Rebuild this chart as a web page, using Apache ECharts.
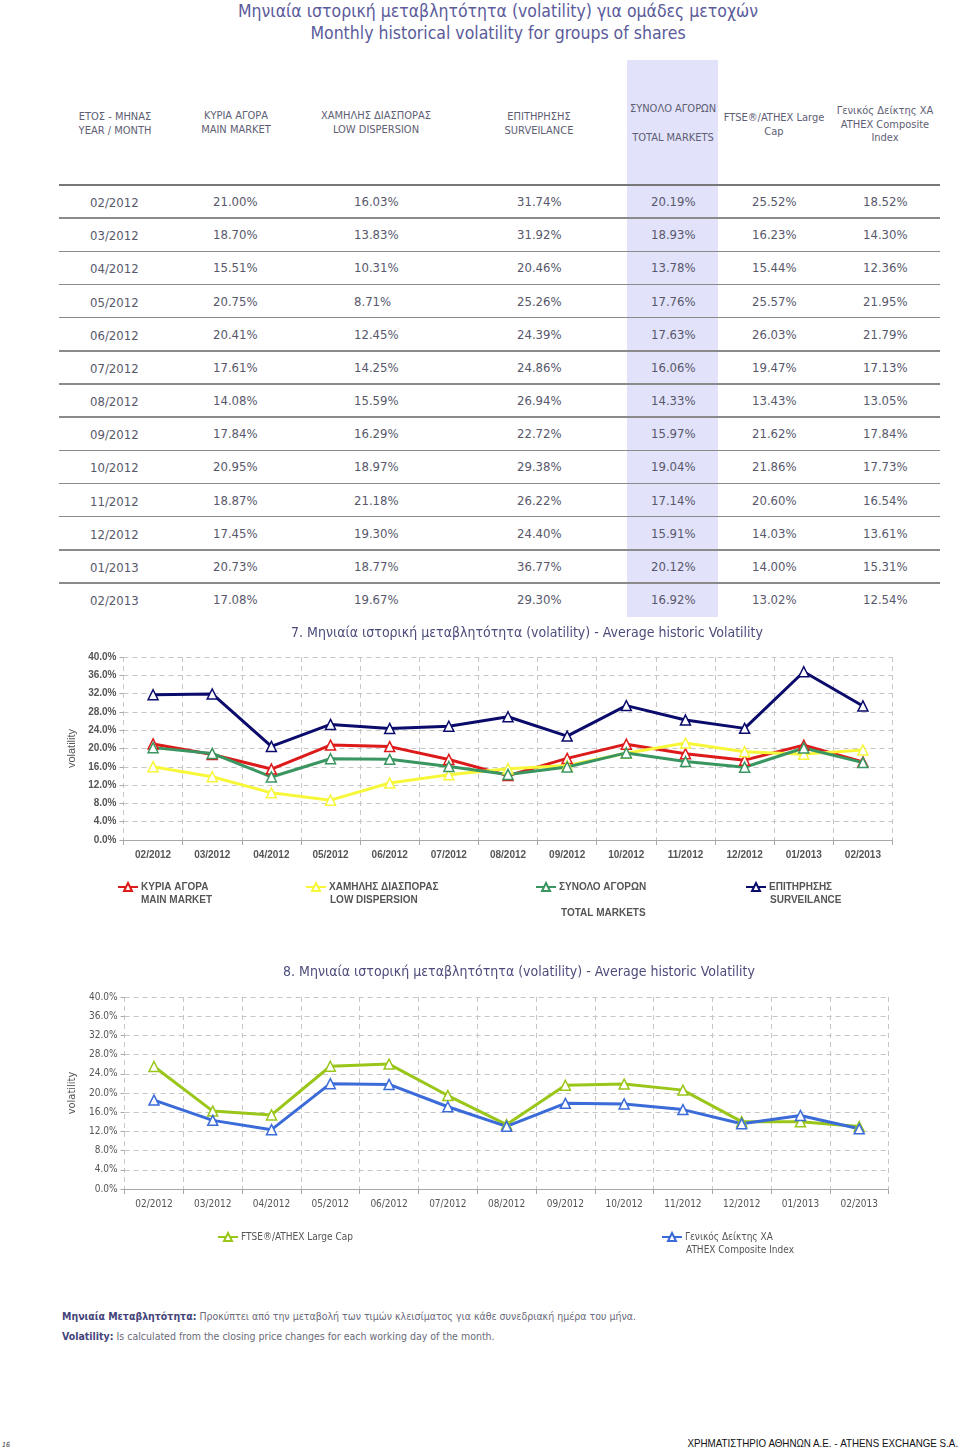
<!DOCTYPE html>
<html>
<head>
<meta charset="utf-8">
<script src="https://cdn.jsdelivr.net/npm/echarts@6/dist/echarts.min.js"></script>
<style>
  html, body { margin:0; padding:0; background:#fff; }
  #page { position:relative; width:960px; height:1450px; overflow:hidden; }
  #chart { position:absolute; left:0; top:0; width:960px; height:1450px; }
  #layer { position:absolute; left:0; top:0; width:960px; height:1450px; pointer-events:none; }
  .t { position:absolute; white-space:nowrap; font-family:"DejaVu Sans Condensed","DejaVu Sans",sans-serif; }
  .hl { position:absolute; background:#e2e2fa; }
  .rule { position:absolute; background:#8a8a8a; height:1.5px; }
</style>
</head>
<body>
<div id="page">
  <div id="layer"></div>
  <div id="chart"></div>
</div>
<script>
// ---------------- DATA ----------------
const months = ['02/2012','03/2012','04/2012','05/2012','06/2012','07/2012','08/2012','09/2012','10/2012','11/2012','12/2012','01/2013','02/2013'];
const mainMarket = [21.00,18.70,15.51,20.75,20.41,17.61,14.08,17.84,20.95,18.87,17.45,20.73,17.08];
const lowDispersion = [16.03,13.83,10.31,8.71,12.45,14.25,15.59,16.29,18.97,21.18,19.30,18.77,19.67];
const surveilance = [31.74,31.92,20.46,25.26,24.39,24.86,26.94,22.72,29.38,26.22,24.40,36.77,29.30];
const totalMarkets = [20.19,18.93,13.78,17.76,17.63,16.06,14.33,15.97,19.04,17.14,15.91,20.12,16.92];
const ftseLargeCap = [25.52,16.23,15.44,25.57,26.03,19.47,13.43,21.62,21.86,20.60,14.03,14.00,13.02];
const compositeIndex = [18.52,14.30,12.36,21.95,21.79,17.13,13.05,17.84,17.73,16.54,13.61,15.31,12.54];

const headerLabels = [
  ['ΕΤΟΣ - ΜΗΝΑΣ','YEAR / MONTH'],
  ['ΚΥΡΙΑ ΑΓΟΡΑ','MAIN MARKET'],
  ['ΧΑΜΗΛΗΣ ΔΙΑΣΠΟΡΑΣ','LOW DISPERSION'],
  ['ΕΠΙΤΗΡΗΣΗΣ','SURVEILANCE'],
  ['ΣΥΝΟΛΟ ΑΓΟΡΩΝ','','TOTAL MARKETS'],
  ['FTSE®/ATHEX Large','Cap'],
  ['Γενικός Δείκτης ΧΑ','ATHEX Composite','Index']
];
const tableColumns = [mainMarket, lowDispersion, surveilance, totalMarkets, ftseLargeCap, compositeIndex];

// ---------------- HTML TABLE ----------------
const layer = document.getElementById('layer');
function addText(txt, x, y, css, align) {
  const d = document.createElement('div');
  d.className = 't';
  d.textContent = txt;
  Object.assign(d.style, css);
  d.style.top = (y) + 'px';
  if (align === 'center') { d.style.left = (x - 450) + 'px'; d.style.width = '900px'; d.style.textAlign = 'center'; }
  else if (align === 'right') { d.style.right = (960 - x) + 'px'; }
  else d.style.left = x + 'px';
  d.style.transform = (css.transform || '') + ' translateY(-50%)';
  layer.appendChild(d);
  return d;
}
// highlighted column
const hl = document.createElement('div');
hl.className = 'hl';
Object.assign(hl.style, {left:'627px', top:'60px', width:'91px', height:'557px'});
layer.appendChild(hl);

// titles
const titleCss = {fontSize:'17.5px', color:'#5b5b9b'};
addText('Μηνιαία ιστορική μεταβλητότητα (volatility) για ομάδες μετοχών', 498, 11, titleCss, 'center');
addText('Monthly historical volatility for groups of shares', 498, 33, titleCss, 'center');

// header
const headCenters = [115, 236, 376, 539, 673, 774, 885];
const headTops = [116, 115, 115, 116, 108, 117, 110];
const headCss = {fontSize:'11px', color:'#5e5e74'};
headerLabels.forEach((lines, i) => {
  const step = (i === 4) ? 14.5 : 13.5;
  lines.forEach((ln, j) => { if (ln) addText(ln, headCenters[i], headTops[i] + j * step, headCss, 'center'); });
});

// rule lines
const rowH = 33.17;
for (let i = 0; i < months.length; i++) {
  const r = document.createElement('div');
  r.className = 'rule';
  Object.assign(r.style, {left:'59px', width:'881px', top:(185 + rowH * i - 0.75) + 'px'});
  if (i === 0) r.style.background = '#777';
  layer.appendChild(r);
}
// rows
const colLeft = [213, 354, 517, 651, 752, 863];
const cellCss = {fontSize:'13px', color:'#58586c'};
months.forEach((m, i) => {
  const y = 202 + rowH * i;
  addText(m, 90, y, cellCss);
  tableColumns.forEach((col, c) => {
    addText(col[i].toFixed(2) + '%', colLeft[c], y - 1, cellCss);
  });
});

// footer notes
function addNote(bold, rest, y) {
  const d = document.createElement('div');
  d.className = 't';
  Object.assign(d.style, {left:'62px', top:y + 'px', fontSize:'10.5px', color:'#6a6a7a', transform:'translateY(-50%)'});
  const b = document.createElement('span');
  b.textContent = bold;
  Object.assign(b.style, {fontWeight:'bold', color:'#44447a'});
  d.appendChild(b);
  d.appendChild(document.createTextNode(' ' + rest));
  layer.appendChild(d);
}
addNote('Μηνιαία Μεταβλητότητα:', 'Προκύπτει από την μεταβολή των τιμών κλεισίματος για κάθε συνεδριακή ημέρα του μήνα.', 1316);
addNote('Volatility:', 'Is calculated from the closing price changes for each working day of the month.', 1336);
addText('ΧΡΗΜΑΤΙΣΤΗΡΙΟ ΑΘΗΝΩΝ Α.Ε. - ATHENS EXCHANGE S.A.', 958, 1443,
  {fontFamily:'"Liberation Sans", Arial, sans-serif', fontSize:'11px', color:'#111', transform:'scaleX(0.89)', transformOrigin:'right center'}, 'right');
addText('16', 2, 1445, {fontSize:'7px', fontStyle:'italic', color:'#333'});

// ---------------- CHARTS ----------------
const chart = echarts.init(document.getElementById('chart'), null, {renderer:'canvas'});
const pct = v => v.toFixed(1) + '%';
const boldLab = {fontFamily:'Liberation Sans, Arial, sans-serif', fontWeight:'bold', fontSize:10, color:'#555'};
const normLab = {fontFamily:'DejaVu Sans Condensed, DejaVu Sans, sans-serif', fontSize:10, color:'#555'};
const dashed = {show:true, lineStyle:{color:'#c6c6c6', type:[5,4], width:1}};

function xAx(grid, lab) {
  return {
    type:'category', gridIndex:grid, data:months, boundaryGap:true,
    axisLine:{lineStyle:{color:'#a8a8a8', width:1}},
    axisTick:{show:true, length:5, lineStyle:{color:'#a8a8a8'}},
    axisLabel:Object.assign({margin:10, interval:0}, lab),
    splitLine:Object.assign({interval:0}, dashed)
  };
}
function yAx(grid, lab, nameFont) {
  return {
    type:'value', gridIndex:grid, min:0, max:40, interval:4,
    name:'volatility', nameLocation:'middle', nameRotate:90, nameGap:41,
    nameTextStyle:Object.assign({fontSize:11, color:'#555'}, nameFont),
    axisLine:{show:false},
    axisTick:{show:true, length:4, lineStyle:{color:'#a8a8a8'}},
    axisLabel:Object.assign({margin:7, formatter:pct}, lab),
    splitLine:dashed
  };
}
function lineSeries(name, data, color, grid) {
  return {
    name, type:'line', data, xAxisIndex:grid, yAxisIndex:grid,
    symbol:'triangle', symbolSize:10, showSymbol:true,
    lineStyle:{color, width:3},
    itemStyle:{color:'#fff', borderColor:color, borderWidth:1.5},
    emphasis:{disabled:true}, animation:false
  };
}
function legendAt(name, left, top, font) {
  return {
    data:[name], left, top, itemWidth:20, itemHeight:10, padding:0,
    selectedMode:false, textStyle:Object.assign({lineHeight:12, padding:[0,0,0,-2]}, font)
  };
}
function gtext(text, x, y, font, align) {
  return {type:'text', x, y, silent:true,
    style:{text, fill:font.color || '#555', font:font.font, align:align || 'left', verticalAlign:'middle'}};
}

const C = {main:'#dd1a1a', low:'#f7f73a', total:'#3a9661', surv:'#0b0b6c', ftse:'#9ac61a', gi:'#3a6bd8'};
const boldFont = {fontFamily:'Liberation Sans, Arial, sans-serif', fontWeight:'bold', fontSize:10, color:'#555'};
const normFont = {fontFamily:'DejaVu Sans Condensed, DejaVu Sans, sans-serif', fontSize:10, color:'#555'};

chart.setOption({
  backgroundColor:'transparent',
  animation:false,
  grid:[
    {left:123.5, top:657, width:769, height:183},
    {left:124.6, top:997, width:764, height:192}
  ],
  xAxis:[xAx(0, boldLab), xAx(1, normLab)],
  yAxis:[
    yAx(0, boldLab, {fontFamily:'Liberation Sans, Arial, sans-serif'}),
    yAx(1, normLab, {fontFamily:'DejaVu Sans Condensed, DejaVu Sans, sans-serif'})
  ],
  legend:[
    legendAt('ΚΥΡΙΑ ΑΓΟΡΑ', 117, 881, boldFont),
    legendAt('ΧΑΜΗΛΗΣ ΔΙΑΣΠΟΡΑΣ', 305, 881, boldFont),
    legendAt('ΣΥΝΟΛΟ ΑΓΟΡΩΝ', 535, 881, boldFont),
    legendAt('ΕΠΙΤΗΡΗΣΗΣ', 745, 881, boldFont),
    legendAt('FTSE®/ATHEX Large Cap', 217, 1231, normFont),
    legendAt('Γενικός Δείκτης ΧΑ', 661, 1231, normFont)
  ],
  series:[
    lineSeries('ΚΥΡΙΑ ΑΓΟΡΑ', mainMarket, C.main, 0),
    lineSeries('ΧΑΜΗΛΗΣ ΔΙΑΣΠΟΡΑΣ', lowDispersion, C.low, 0),
    lineSeries('ΣΥΝΟΛΟ ΑΓΟΡΩΝ', totalMarkets, C.total, 0),
    lineSeries('ΕΠΙΤΗΡΗΣΗΣ', surveilance, C.surv, 0),
    lineSeries('FTSE®/ATHEX Large Cap', ftseLargeCap, C.ftse, 1),
    lineSeries('Γενικός Δείκτης ΧΑ', compositeIndex, C.gi, 1)
  ],
  graphic:[
    gtext('7. Μηνιαία ιστορική μεταβλητότητα (volatility) - Average historic Volatility', 527, 633,
      {font:'14px "DejaVu Sans Condensed", "DejaVu Sans", sans-serif', color:'#4c4c7c'}, 'center'),
    gtext('8. Μηνιαία ιστορική μεταβλητότητα (volatility) - Average historic Volatility', 519, 972,
      {font:'14px "DejaVu Sans Condensed", "DejaVu Sans", sans-serif', color:'#4c4c7c'}, 'center'),
    gtext('MAIN MARKET', 141, 900, {font:'bold 10px "Liberation Sans", Arial, sans-serif', color:'#555'}),
    gtext('LOW DISPERSION', 330, 900, {font:'bold 10px "Liberation Sans", Arial, sans-serif', color:'#555'}),
    gtext('TOTAL MARKETS', 561, 913, {font:'bold 10px "Liberation Sans", Arial, sans-serif', color:'#555'}),
    gtext('SURVEILANCE', 770, 900, {font:'bold 10px "Liberation Sans", Arial, sans-serif', color:'#555'}),
    gtext('ATHEX Composite Index', 686, 1250, {font:'10px "DejaVu Sans Condensed", "DejaVu Sans", sans-serif', color:'#555'})
  ]
});
</script>
</body>
</html>
